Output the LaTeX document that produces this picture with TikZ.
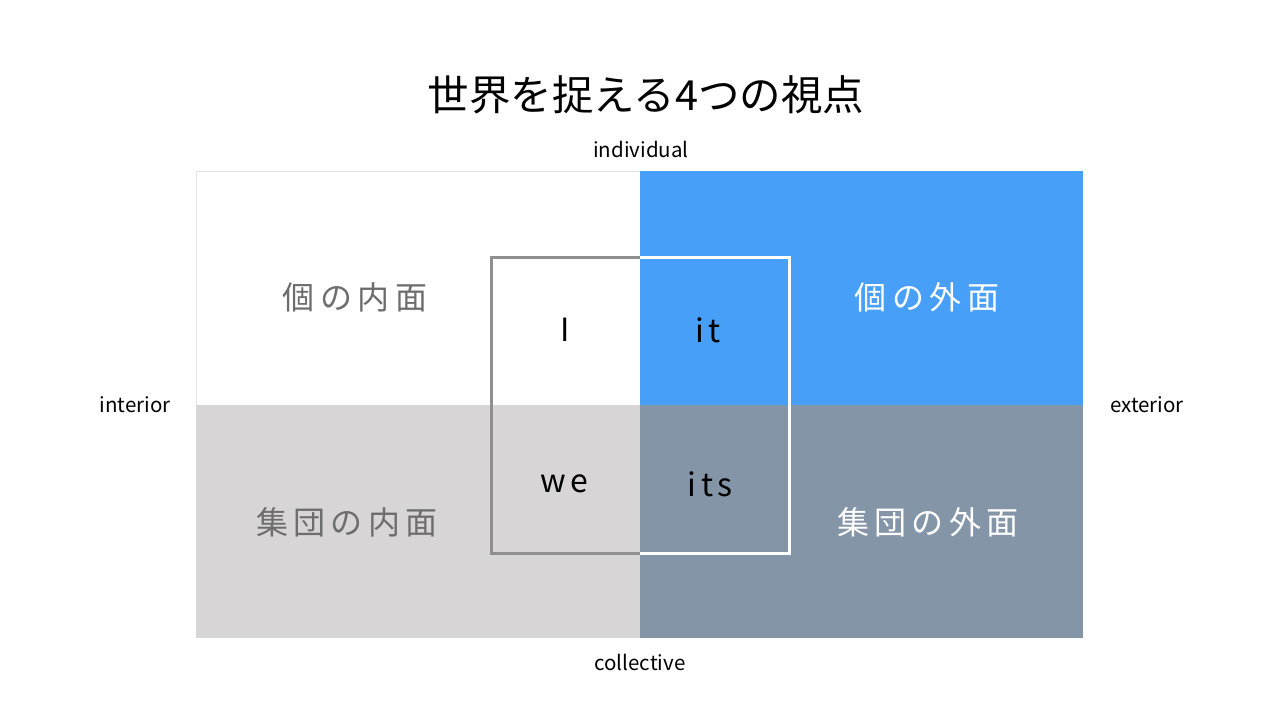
\documentclass[tikz,border=0pt]{standalone}
\usepackage{fontspec}
\setmainfont{Noto Sans CJK JP}
\newfontfamily\jpsp[LetterSpace=17]{Noto Sans CJK JP}
\newfontfamily\lsp[LetterSpace=14]{Noto Sans CJK JP}
\definecolor{qblue}{HTML}{489FF8}
\definecolor{qlgray}{HTML}{D7D5D6}
\definecolor{qslate}{HTML}{8595A8}
\definecolor{qtext}{HTML}{6D6D6D}
\definecolor{qframe}{HTML}{8F8F8F}
\definecolor{qedge}{HTML}{E3E3E3}
\tikzset{
  axislabel/.style={font=\fontsize{20.5}{24}\selectfont, text=black, inner sep=0pt},
  quadlabel/.style={font=\jpsp\fontsize{32}{38}\selectfont, inner sep=0pt},
  pronoun/.style={font=\lsp\fontsize{32}{38}\selectfont, text=black, inner sep=0pt},
}
\begin{document}
\begin{tikzpicture}[x=1pt,y=-1pt]
\useasboundingbox (0,0) rectangle (1280,720);
\fill[white] (0,0) rectangle (1280,720);
% quadrants
\fill[white] (196,171) rectangle (640,405);
\draw[qedge, line width=0.8] (640,171) -- (196,171) -- (196,405);
\fill[qblue] (640,171) rectangle (1083,405);
\fill[qlgray] (196,405) rectangle (640,638);
\fill[qslate] (640,405) rectangle (1083,638);
% central frame
\coordinate (ftl) at (491,257);
\coordinate (ftm) at (640,257);
\coordinate (ftr) at (789,257);
\coordinate (fbl) at (491,553);
\coordinate (fbm) at (640,553);
\coordinate (fbr) at (789,553);
\draw[qframe, line width=3] (ftm) -- (ftl) -- (fbl) -- (fbm);
\draw[white, line width=3] (ftm) -- (ftr) -- (fbr) -- (fbm);
% title
\node[inner sep=0pt, font=\fontsize{41.5}{48}\selectfont] (title) at (646,95) {世界を捉える4つの視点};
% axis labels
\node[axislabel] (ind) at (641,149) {individual};
\node[axislabel] (col) at (640,662) {collective};
\node[axislabel] (int) at (135,405) {interior};
\node[axislabel] (ext) at (1147,405) {exterior};
% quadrant labels
\node[quadlabel, text=qtext] (q1) at (355,297) {個の内面};
\node[quadlabel, text=white] (q2) at (927,297) {個の外面};
\node[quadlabel, text=qtext] (q3) at (347,522) {集団の内面};
\node[quadlabel, text=white] (q4) at (928,522) {集団の外面};
% pronouns
\node[pronoun] (pI) at (565,330) {I};
\node[pronoun] (pit) at (708,330) {it};
\node[pronoun] (pwe) at (564,484) {we};
\node[pronoun] (pits) at (710,484) {its};
\end{tikzpicture}
\end{document}
